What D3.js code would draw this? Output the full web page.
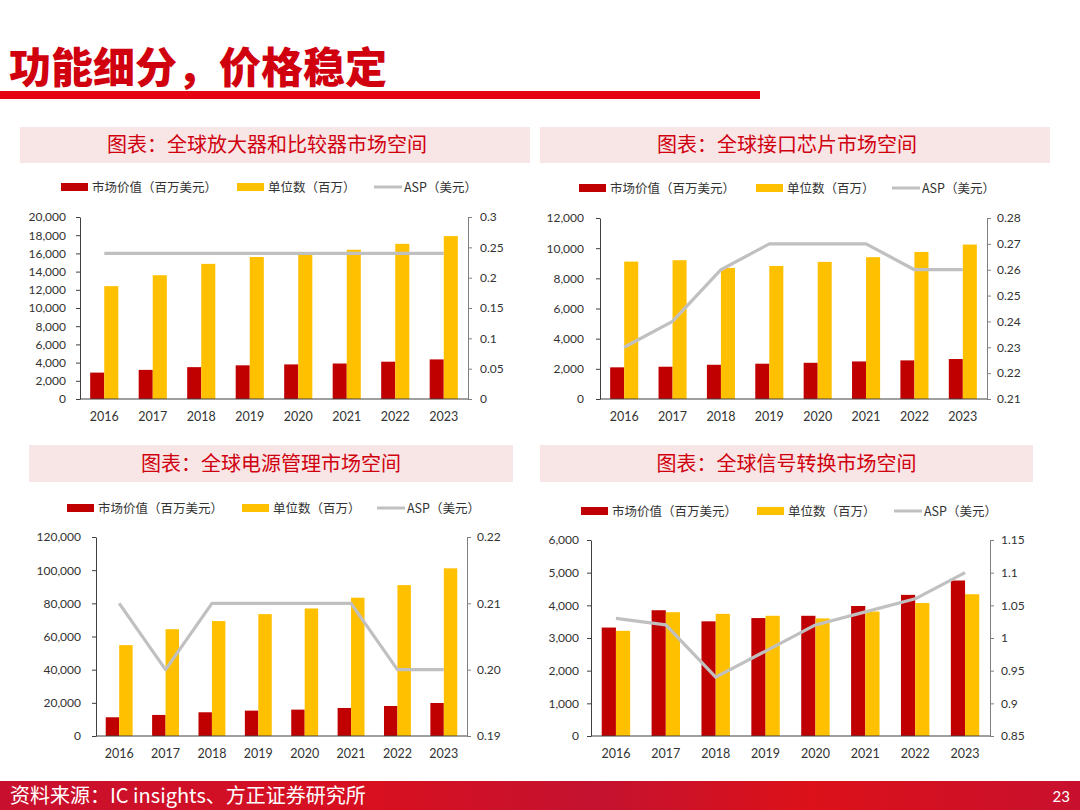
<!DOCTYPE html>
<html>
<head>
<meta charset="utf-8">
<script src="https://cdn.jsdelivr.net/npm/d3@7"></script>
<style>
  html, body { margin: 0; padding: 0; background: #fff; }
  svg { display: block; }
</style>
</head>
<body>
<svg id="page" width="1080" height="810"></svg>
<script>
// shared categories
const years = ["2016", "2017", "2018", "2019", "2020", "2021", "2022", "2023"];

// 放大器和比较器
const ampValue = [2900, 3200, 3500, 3700, 3800, 3900, 4100, 4350];
const ampUnits = [12400, 13600, 14850, 15600, 15950, 16400, 17050, 17900];
const ampAsp = [0.24, 0.24, 0.24, 0.24, 0.24, 0.24, 0.24, 0.24];

// 接口芯片
const ifValue = [2100, 2140, 2270, 2340, 2400, 2490, 2560, 2650];
const ifUnits = [9110, 9200, 8690, 8820, 9090, 9400, 9750, 10240];
const ifAsp = [0.23, 0.24, 0.26, 0.27, 0.27, 0.27, 0.26, 0.26];

// 电源管理
const pmValue = [11300, 12700, 14300, 15300, 15900, 16900, 18100, 19900];
const pmUnits = [54800, 64400, 69300, 73500, 76900, 83400, 91000, 101100];
const pmAsp = [0.21, 0.20, 0.21, 0.21, 0.21, 0.21, 0.20, 0.20];

// 信号转换
const scValue = [3320, 3850, 3510, 3610, 3680, 3980, 4320, 4760];
const scUnits = [3220, 3790, 3740, 3680, 3600, 3810, 4070, 4340];
const scAsp = [1.03, 1.02, 0.94, 0.98, 1.02, 1.04, 1.06, 1.10];

const RED = "#c00000", YELLOW = "#ffc000", GREY = "#c0c0c0";
const NUM_FONT = "Lato, 'Open Sans', sans-serif";
const CJK = "'Noto Sans CJK SC', sans-serif";

const svg = d3.select("#page");

// header
svg.append("text")
  .attr("x", 9).attr("y", 83)
  .attr("font-family", CJK).attr("font-weight", 900)
  .attr("font-size", 42).attr("fill", "#d0000f")
  .text("功能细分，价格稳定");
svg.append("rect").attr("x", 0).attr("y", 91).attr("width", 760).attr("height", 8).attr("fill", "#e60012");

// footer
const defs = svg.append("defs");
const fg = defs.append("linearGradient").attr("id", "foot").attr("x1", 0).attr("x2", 1);
[[0, "#c8102e"], [0.35, "#d81020"], [0.55, "#c41230"], [0.75, "#dc1119"], [1, "#c8102e"]]
  .forEach(([o, c]) => fg.append("stop").attr("offset", o).attr("stop-color", c));
svg.append("rect").attr("x", 0).attr("y", 781).attr("width", 1080).attr("height", 29).attr("fill", "url(#foot)");
svg.append("text").attr("x", 10).attr("y", 803)
  .attr("font-family", CJK).attr("font-size", 20).attr("fill", "#fff")
  .text("资料来源：IC insights、方正证券研究所");
svg.append("text").attr("x", 1070).attr("y", 802).attr("text-anchor", "end")
  .attr("font-family", NUM_FONT).attr("font-size", 15).attr("fill", "#fff")
  .text("23");

function drawPanel(p) {
  const g = svg.append("g");

  // title band
  g.append("rect")
    .attr("x", p.band[0]).attr("y", p.band[1]).attr("width", p.band[2]).attr("height", p.band[3])
    .attr("fill", "#f8e5e5");
  g.append("text")
    .attr("x", p.band[0] + p.band[2] / 2 + p.titleShift).attr("y", p.band[1] + p.band[3] / 2 + 7)
    .attr("text-anchor", "middle")
    .attr("font-family", CJK).attr("font-size", 20).attr("fill", "#d0000f")
    .text(p.title);

  // legend
  const lg = g.append("g").attr("transform", `translate(0,${p.legendY})`);
  const L = p.legendX;
  lg.append("rect").attr("x", L[0]).attr("y", -4).attr("width", 27).attr("height", 8).attr("fill", RED);
  lg.append("text").attr("x", L[0] + 31).attr("y", 4.5).attr("font-family", CJK).attr("font-size", 12.5)
    .attr("fill", "#333").text("市场价值（百万美元）");
  lg.append("rect").attr("x", L[1]).attr("y", -4).attr("width", 27).attr("height", 8).attr("fill", YELLOW);
  lg.append("text").attr("x", L[1] + 31).attr("y", 4.5).attr("font-family", CJK).attr("font-size", 12.5)
    .attr("fill", "#333").text("单位数（百万）");
  lg.append("line").attr("x1", L[2]).attr("x2", L[2] + 28).attr("y1", 0).attr("y2", 0)
    .attr("stroke", GREY).attr("stroke-width", 3);
  lg.append("text").attr("x", L[2] + 30).attr("y", 4.5).attr("font-family", CJK).attr("font-size", 12.5)
    .attr("fill", "#333").text("ASP（美元）");

  // scales
  const x = d3.scaleBand().domain(years).range([p.left, p.right])
    .paddingInner(p.pad).paddingOuter(p.pad / 2);
  const xs = d3.scaleBand().domain(["value", "units"]).range([0, x.bandwidth()]);
  const y = d3.scaleLinear().domain(p.yDomain).range([p.bottom, p.top]);
  const y2 = d3.scaleLinear().domain(p.y2Domain).range([p.bottom, p.top]);

  // bars
  const series = [
    { key: "value", data: p.value, color: RED },
    { key: "units", data: p.units, color: YELLOW }
  ];
  series.forEach((s) => {
    g.append("g").selectAll("rect")
      .data(s.data)
      .join("rect")
      .attr("x", (d, i) => x(years[i]) + xs(s.key))
      .attr("width", xs.bandwidth())
      .attr("y", (d) => y(d))
      .attr("height", (d) => y(0) - y(d))
      .attr("fill", s.color);
  });

  // ASP line
  const line = d3.line()
    .x((d, i) => x(years[i]) + x.bandwidth() / 2)
    .y((d) => y2(d));
  g.append("path").datum(p.asp)
    .attr("d", line).attr("fill", "none")
    .attr("stroke", GREY).attr("stroke-width", 3.2).attr("stroke-linejoin", "round");

  // axes
  const axL = g.append("g").attr("transform", `translate(${p.left},0)`)
    .call(d3.axisLeft(y).tickValues(d3.range(p.yDomain[0], p.yDomain[1] + 1, p.yStep))
      .tickFormat(d3.format(",")).tickSize(4).tickSizeOuter(0));
  axL.select(".domain").attr("stroke", "#404040");
  axL.selectAll(".tick line").attr("stroke", "#404040");

  const r2 = d3.range(0, Math.round((p.y2Domain[1] - p.y2Domain[0]) / p.y2Step) + 1)
    .map((k) => +(p.y2Domain[0] + k * p.y2Step).toFixed(4));
  const axR = g.append("g").attr("transform", `translate(${p.right},0)`)
    .call(d3.axisRight(y2).tickValues(r2).tickFormat(p.y2Format).tickSize(4).tickSizeOuter(0));
  axR.select(".domain").attr("stroke", "#808080");
  axR.selectAll(".tick line").attr("stroke", "#808080");

  const axB = g.append("g").attr("transform", `translate(0,${p.bottom})`)
    .call(d3.axisBottom(x).tickSize(0).tickSizeOuter(0));
  axB.select(".domain").attr("stroke", "#404040").attr("d", `M${p.left},0H${p.right}`);
  axB.selectAll(".tick text").attr("dy", "1.5em");

  [axL, axR, axB].forEach((a) => a.selectAll("text")
    .attr("font-family", NUM_FONT).attr("font-size", 12).attr("fill", "#333"));
  axB.selectAll("text").attr("font-size", 12.5);
  axL.selectAll("text").attr("x", -p.lGap);
  axR.selectAll("text").attr("x", p.rGap);
}

drawPanel({
  title: "图表：全球放大器和比较器市场空间", band: [20, 127, 510, 36], titleShift: -8,
  legendY: 187, legendX: [61, 237, 374],
  left: 80, right: 468, top: 217, bottom: 399, pad: 0.42,
  yDomain: [0, 20000], yStep: 2000, y2Domain: [0, 0.3], y2Step: 0.05, y2Format: d3.format(""),
  lGap: 14, rGap: 12,
  value: ampValue, units: ampUnits, asp: ampAsp
});

drawPanel({
  title: "图表：全球接口芯片市场空间", band: [540, 127, 510, 36], titleShift: -8,
  legendY: 188, legendX: [579, 756, 892],
  left: 600, right: 987, top: 218, bottom: 399, pad: 0.42,
  yDomain: [0, 12000], yStep: 2000, y2Domain: [0.21, 0.28], y2Step: 0.01, y2Format: d3.format(""),
  lGap: 16, rGap: 10,
  value: ifValue, units: ifUnits, asp: ifAsp
});

drawPanel({
  title: "图表：全球电源管理市场空间", band: [29, 445, 484, 37], titleShift: 0,
  legendY: 508, legendX: [67, 242, 377],
  left: 96, right: 467, top: 537, bottom: 736, pad: 0.42,
  yDomain: [0, 120000], yStep: 20000, y2Domain: [0.19, 0.22], y2Step: 0.01, y2Format: d3.format(".2f"),
  lGap: 15, rGap: 10,
  value: pmValue, units: pmUnits, asp: pmAsp
});

drawPanel({
  title: "图表：全球信号转换市场空间", band: [540, 445, 493, 37], titleShift: 0,
  legendY: 511, legendX: [581, 757, 894],
  left: 591, right: 990, top: 540, bottom: 736, pad: 0.43,
  yDomain: [0, 6000], yStep: 1000, y2Domain: [0.85, 1.15], y2Step: 0.05, y2Format: d3.format(""),
  lGap: 12, rGap: 11,
  value: scValue, units: scUnits, asp: scAsp
});
</script>
</body>
</html>
